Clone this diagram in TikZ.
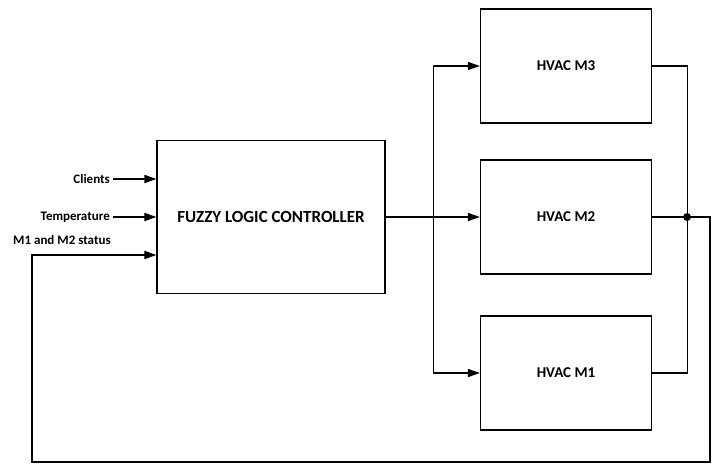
\documentclass[tikz,border=0pt]{standalone}
\usepackage{fontspec}
\setmainfont{Carlito}
\usetikzlibrary{arrows.meta}

\begin{document}
\begin{tikzpicture}[x=1pt, y=1pt, node distance=295pt,
  block/.style={draw, line width=1.2pt, minimum width=171pt, minimum height=114pt, font=\bfseries\fontsize{15}{17}\selectfont},
  lbl/.style={inner sep=3pt, font=\bfseries\fontsize{13}{15}\selectfont},
  link/.style={line width=1.2pt},
  feed/.style={line width=1.8pt},
  tip/.style={-{Triangle[length=12pt, width=8pt]}}]

  \useasboundingbox (0,0) rectangle (717,464);

  % Controller and the three units
  \node[block, minimum width=228pt, minimum height=153pt, font=\bfseries\fontsize{17}{19}\selectfont] (flc) at (271,247) {FUZZY LOGIC CONTROLLER};
  \node[block, right of=flc] (m2) {HVAC M2};
  \node[block, above of=m2, node distance=151pt] (m3) {HVAC M3};
  \node[block, below of=m2, node distance=156pt] (m1) {HVAC M1};

  % Inputs
  \coordinate (in1) at ([yshift=38pt]flc.west);
  \coordinate (in2) at (flc.west);
  \coordinate (in3) at ([yshift=-38pt]flc.west);
  \node[lbl, anchor=east] (clients) at (113,285) {Clients};
  \node[lbl, anchor=east] (temp) at (113,247) {Temperature};
  \node[lbl, anchor=base west] (status) at (10,219) {M1 and M2 status};

  \draw[feed, tip] (clients) -- (in1);
  \draw[feed, tip] (temp) -- (in2);

  % Split to the units
  \coordinate (sp) at ([xshift=48pt]flc.east);
  \draw[link, tip] (flc.east) -- (m2.west);
  \draw[link, tip] (sp) |- (m3.west);
  \draw[link, tip] (sp) |- (m1.west);

  % Outputs join
  \coordinate (jn) at ([xshift=35pt]m2.east);
  \draw[link] (m3.east) -| (jn);
  \draw[link] (m1.east) -| (jn);
  \draw[link] (m2.east) -- (jn);
  \fill (jn) circle (4pt);

  % Feedback
  \coordinate (fbr) at (710,2);
  \coordinate (fbl) at (32,2);
  \draw[feed, tip] (jn) -| (fbr) -- (fbl) |- (in3);

\end{tikzpicture}
\end{document}
